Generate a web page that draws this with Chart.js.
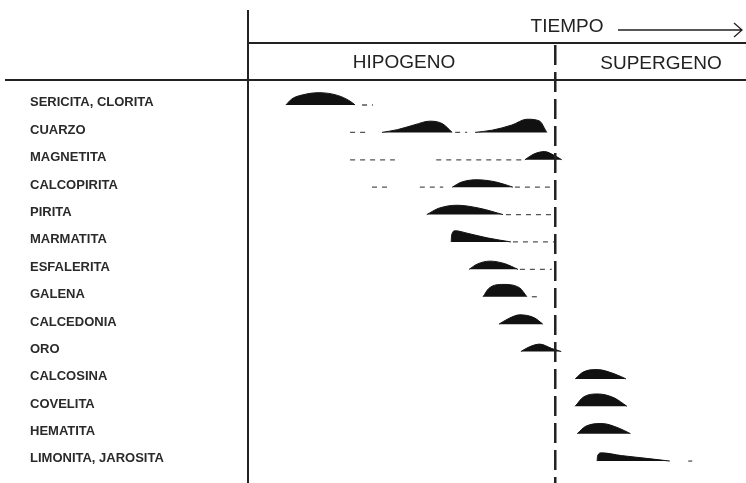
<!DOCTYPE html>
<html>
<head>
<meta charset="utf-8">
<script src="https://cdn.jsdelivr.net/npm/chart.js@4.4.1/dist/chart.umd.min.js"></script>
<style>
  html, body { margin: 0; padding: 0; background: #fff; }
</style>
</head>
<body>
<canvas id="paragenesis" width="746" height="483"></canvas>
<script>
// minerales, de arriba abajo
const minerales = [
    'SERICITA, CLORITA', 'CUARZO', 'MAGNETITA', 'CALCOPIRITA', 'PIRITA',
    'MARMATITA', 'ESFALERITA', 'GALENA', 'CALCEDONIA', 'ORO',
    'CALCOSINA', 'COVELITA', 'HEMATITA', 'LIMONITA, JAROSITA'
];

// tiempo (0-100) donde termina la etapa hipogena
const limiteHipogeno = 61.7;

// lentes de abundancia: [tiempo, abundancia]
const lentes = [
    [[[7.6, 0], [8.8, 0.22], [11, 0.37], [14.2, 0.45], [18, 0.35], [20.5, 0.14], [21.5, 0]]],
    [[[26.9, 0], [30, 0.1], [33.5, 0.28], [36.5, 0.41], [39, 0.32], [41, 0]],
     [[45.6, 0], [49, 0.08], [53, 0.27], [56, 0.48], [58.5, 0.42], [60, 0]]],
    [[[55.6, 0], [57.3, 0.2], [59.5, 0.3], [61.5, 0.16], [63, 0]]],
    [[[41, 0], [42.8, 0.18], [46, 0.27], [50, 0.18], [53.2, 0]]],
    [[[35.9, 0], [38.3, 0.23], [42, 0.34], [46.5, 0.23], [51.2, 0]]],
    [[[40.8, 0], [40.9, 0.26], [41.6, 0.41], [44, 0.32], [48, 0.15], [52.8, 0]]],
    [[[44.4, 0], [46, 0.19], [48.6, 0.3], [51.5, 0.21], [54.2, 0]]],
    [[[47.2, 0], [48.4, 0.31], [51.2, 0.45], [54.5, 0.33], [56, 0]]],
    [[[50.4, 0], [52.4, 0.21], [54.6, 0.34], [57.5, 0.23], [59.2, 0]]],
    [[[54.8, 0], [56.5, 0.17], [58.6, 0.27], [61, 0.11], [62.9, 0]]],
    [[[65.7, 0], [67.3, 0.25], [70.1, 0.34], [73.5, 0.19], [75.9, 0]]],
    [[[65.7, 0], [67.3, 0.33], [70.3, 0.45], [73.5, 0.31], [76.1, 0]]],
    [[[66.1, 0], [67.8, 0.27], [71.1, 0.37], [74.5, 0.2], [76.8, 0]]],
    [[[70.1, 0], [70.2, 0.2], [71, 0.3], [75, 0.2], [80, 0.1], [84.7, 0]]]
];

// tramos de presencia escasa (linea de trazos): [desde, hasta]
const trazas = [
    [[22.9, 25.1]],
    [[20.5, 24.1], [41.6, 44.0]],
    [[20.5, 29.5], [37.8, 55.6]],
    [[24.9, 28.1], [34.5, 39.2], [53.6, 61.7]],
    [[51.8, 61.7]],
    [[53.2, 61.7]],
    [[54.6, 61.0]],
    [[57.0, 58.0]],
    [],
    [],
    [],
    [],
    [],
    [[88.4, 89.2]]
];

const datasets = [];
minerales.forEach((m, i) => {
    lentes[i].forEach(lente => {
        datasets.push({
            label: m,
            data: lente.map(p => ({ x: p[0], y: i - p[1] })),
            fill: { value: i },
            backgroundColor: '#111',
            borderColor: '#111',
            borderWidth: 1,
            pointRadius: 0,
            cubicInterpolationMode: 'monotone'
        });
    });
    trazas[i].forEach(t => {
        datasets.push({
            label: m + ' (trazas)',
            data: [{ x: t[0], y: i }, { x: t[1], y: i }],
            fill: false,
            borderColor: '#555',
            borderWidth: 1.3,
            borderDash: [5, 5],
            pointRadius: 0
        });
    });
});

const marco = {
    id: 'marco',
    afterDatasetsDraw(chart) {
        const ctx = chart.ctx;
        const area = chart.chartArea;
        const xLim = chart.scales.x.getPixelForValue(limiteHipogeno);
        ctx.save();
        ctx.strokeStyle = '#222';
        ctx.lineWidth = 2;
        ctx.beginPath();
        ctx.moveTo(area.left, 10); ctx.lineTo(area.left, 483);
        ctx.moveTo(area.left, 43); ctx.lineTo(746, 43);
        ctx.moveTo(5, 80); ctx.lineTo(746, 80);
        ctx.stroke();

        // flecha del tiempo
        ctx.lineWidth = 1.3;
        ctx.beginPath();
        ctx.moveTo(618, 30); ctx.lineTo(742, 30);
        ctx.moveTo(734, 23); ctx.lineTo(742, 30); ctx.lineTo(734, 37);
        ctx.stroke();

        // limite hipogeno / supergeno
        ctx.lineWidth = 2.5;
        ctx.setLineDash([20, 7]);
        ctx.beginPath();
        ctx.moveTo(xLim, 45); ctx.lineTo(xLim, 483);
        ctx.stroke();
        ctx.setLineDash([]);

        ctx.fillStyle = '#222';
        ctx.textAlign = 'center';
        ctx.textBaseline = 'middle';
        ctx.font = '19px "Liberation Sans", Arial, sans-serif';
        ctx.fillText('TIEMPO', 567, 27);
        ctx.fillText('HIPOGENO', 404, 63);
        ctx.fillText('SUPERGENO', 661, 64);
        ctx.restore();
    }
};

new Chart(document.getElementById('paragenesis'), {
    type: 'line',
    data: { datasets: datasets },
    options: {
        responsive: false,
        animation: false,
        devicePixelRatio: 1,
        layout: { padding: { left: 30, top: 81, right: 0, bottom: 0 } },
        plugins: { legend: { display: false }, tooltip: { enabled: false } },
        scales: {
            x: { type: 'linear', min: 0, max: 100, display: false },
            y: {
                type: 'linear',
                reverse: true,
                min: -0.876,
                max: 13.8,
                grid: { display: false },
                border: { display: false },
                afterBuildTicks: s => { s.ticks = minerales.map((m, i) => ({ value: i - 0.08 })); },
                afterFit: s => { s.width = 218; s.paddingTop = 0; s.paddingBottom = 0; },
                ticks: {
                    autoSkip: false,
                    crossAlign: 'far',
                    padding: 0,
                    color: '#2a2a2a',
                    font: { family: '"Liberation Sans", Arial, sans-serif', size: 13, weight: 'bold' },
                    callback: (v, idx) => minerales[idx]
                }
            }
        }
    },
    plugins: [marco]
});
</script>
</body>
</html>
